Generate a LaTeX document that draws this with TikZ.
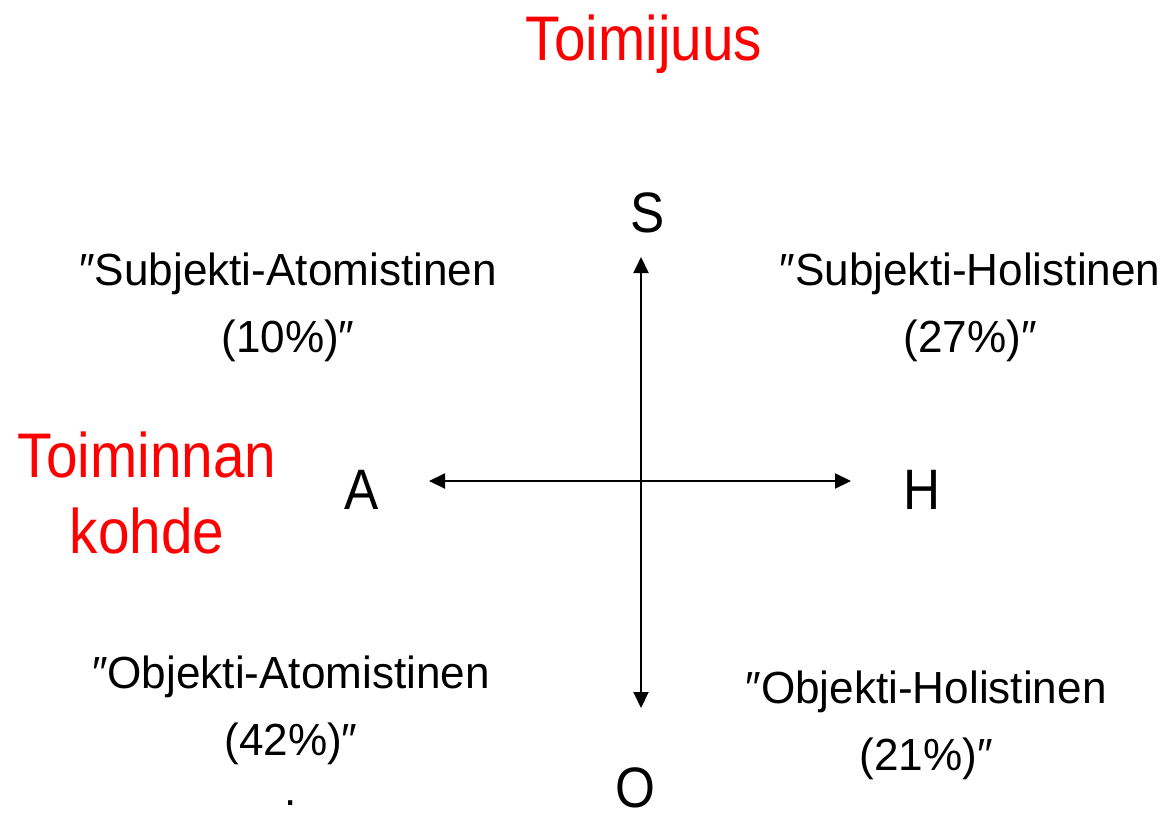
\documentclass[tikz,border=0pt]{standalone}
\usepackage{fontspec}
\setmainfont{Liberation Sans}
\usetikzlibrary{arrows.meta}
\newcommand{\dq}{″}

\begin{document}
\begin{tikzpicture}[x=1pt,y=-1pt,
pole/.style={anchor=base,inner sep=1pt,font=\addfontfeature{FakeStretch=0.9}\fontsize{57}{68}\selectfont},
quad/.style={anchor=base,align=center,font=\addfontfeature{FakeStretch=0.98}\fontsize{45}{67}\selectfont},
axis/.style={red,anchor=base,align=center,font=\addfontfeature{FakeStretch=0.9}\fontsize{63}{76}\selectfont},
arr/.style={line width=2pt,{Triangle[length=16pt,width=15pt]}-{Triangle[length=16pt,width=15pt]}}]
\useasboundingbox (0,0) rectangle (1164,813);
% axis titles
\node[axis] (tj) at (644,61) {Toimijuus};
\node[axis] (tk) at (147,553) {Toiminnan\\kohde};
% poles
\node[pole] (S) at (648,232) {S};
\node[pole] (A) at (362,509) {A};
\node[pole] (H) at (922,509) {H};
\node[pole] (O) at (635,807) {O};
% arrows
\coordinate (top) at (641,257);
\coordinate (bot) at (641,708);
\coordinate (lft) at (429,481);
\coordinate (rgt) at (851,481);
\draw[arr] (bot)--(top);
\draw[arr] (lft)--(rgt);
% quadrants
\node[quad] (sa) at (288,352) {\dq Subjekti-Atomistinen\\(10\%)\dq};
\node[quad] (sh) at (970,352) {\dq Subjekti-Holistinen\\(27\%)\dq};
\node[quad] (oa) at (291,805) {\dq Objekti-Atomistinen\\(42\%)\dq\\[-17pt].};
\node[quad] (oh) at (926,770) {\dq Objekti-Holistinen\\(21\%)\dq};
\end{tikzpicture}
\end{document}
